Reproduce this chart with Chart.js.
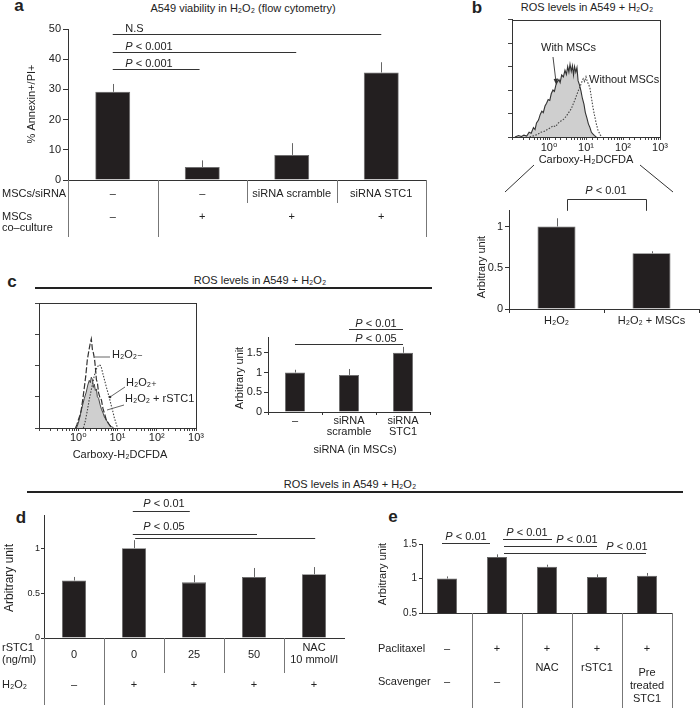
<!DOCTYPE html>
<html>
<head>
<meta charset="utf-8">
<title>STC1 and ROS in A549 cells</title>
<script src="https://cdn.jsdelivr.net/npm/chart.js@4.4.1/dist/chart.umd.min.js"></script>
<style>
  html, body { margin: 0; padding: 0; background: #fff; }
  #fig { position: relative; width: 700px; height: 708px; overflow: hidden;
         font-family: "Liberation Sans", Arial, "DejaVu Sans", sans-serif; color: #222; }
  #fig canvas { position: absolute; }
  .t { position: absolute; white-space: nowrap; font-size: 11px; line-height: 1; transform: translate(-50%, -50%); }
  .lt { position: absolute; font-size: 17px; font-weight: bold; line-height: 1; transform: translate(-50%, -50%); }
  .rule { position: absolute; height: 1.5px; background: #222; }
</style>
</head>
<body>
<div id="fig">
  <div class="lt" style="left:19px;top:5px">a</div>
  <div class="t" style="left:243px;top:8px">A549 viability in H₂O₂ (flow cytometry)</div>
  <div class="lt" style="left:477px;top:7px">b</div>
  <div class="t" style="left:587px;top:7px">ROS levels in A549 + H₂O₂</div>
  <div class="lt" style="left:12px;top:281px">c</div>
  <div class="t" style="left:260px;top:280px">ROS levels in A549 + H₂O₂</div>
  <div class="rule" style="left:35px;top:287px;width:397px"></div>
  <div class="t" style="left:350px;top:484px">ROS levels in A549 + H₂O₂</div>
  <div class="rule" style="left:27px;top:491px;width:656px"></div>
  <div class="lt" style="left:21px;top:517px">d</div>
  <div class="lt" style="left:393px;top:516px">e</div>

  <canvas id="chartA" width="430" height="220" style="left:0;top:20px"></canvas>
  <canvas id="histB" width="230" height="160" style="left:470px;top:10px"></canvas>
  <canvas id="chartB" width="240" height="180" style="left:460px;top:160px"></canvas>
  <canvas id="histC" width="230" height="175" style="left:0;top:290px"></canvas>
  <canvas id="chartC" width="210" height="155" style="left:230px;top:310px"></canvas>
  <canvas id="chartD" width="350" height="213" style="left:0;top:495px"></canvas>
  <canvas id="chartE" width="350" height="188" style="left:350px;top:520px"></canvas>
</div>

<script>
// ---- panel a: A549 viability ----
const aGroups = ['–', '–', 'siRNA scramble', 'siRNA STC1'];
const aCoculture = ['–', '+', '+', '+'];
const aValues = [29.2, 4.3, 8.3, 35.6];
const aErrTop = [31.8, 6.5, 12.2, 39.0];
const aTicks = [0, 10, 20, 30, 40, 50];

// ---- panel b: histogram + bars ----
const bWithX = [0.12, 0.15, 0.18, 0.21, 0.25, 0.29, 0.33, 0.38, 0.42, 0.46, 0.52, 0.58, 0.64, 0.7, 0.78,
  0.86, 0.95, 1.05, 1.15, 1.28, 1.4, 1.55, 1.7, 1.86, 2.0, 2.2, 2.45, 2.7, 2.95, 3.2, 3.45, 3.7, 4.0,
  4.3, 4.6, 4.9, 5.3, 5.7, 6.1, 6.6, 7.3, 8.0, 8.8, 9.6, 10.6, 11.6, 12.8, 14.0, 15.5, 17, 19];
const bWithY = [0, 3, 1, 4, 2, 10, 8, 20, 16, 30, 36, 48, 55, 52, 66,
  72, 80, 78, 92, 100, 97, 112, 118, 122, 116, 132, 128, 142, 133, 150, 138, 155, 140,
  152, 132, 150, 138, 148, 120, 112, 98, 82, 70, 52, 40, 28, 20, 10, 6, 3, 0];
const bWithoutX = [0.3, 0.4, 0.5, 0.6, 0.75, 0.9, 1.1, 1.3, 1.5, 1.8, 2.1, 2.5, 2.9, 3.4, 4.0, 4.6,
  5.3, 6.0, 6.8, 7.6, 8.4, 9.2, 10.0, 10.8, 11.8, 12.8, 14.0, 15.5, 17, 19, 21, 24, 27];
const bWithoutY = [0, 3, 6, 10, 12, 16, 20, 24, 22, 30, 34, 38, 44, 52, 60, 72,
  84, 96, 106, 116, 124, 118, 128, 118, 112, 104, 84, 62, 46, 28, 15, 5, 0];
const bGroups = ['H₂O₂', 'H₂O₂ + MSCs'];
const bValues = [1.0, 0.675];
const bErrTop = [1.1, 0.70];
const bTicks = [0, 0.5, 1];

// ---- panel c: histogram + bars ----
const cNegX = [0.85, 0.92, 1.0, 1.1, 1.19, 1.3, 1.43, 1.55, 1.7, 1.85, 2.03, 2.15, 2.3, 2.43, 2.6,
  2.73, 2.9, 3.07, 3.3, 3.6, 3.89, 4.3, 4.64, 5.2, 6.24, 7.0];
const cNegY = [0, 4, 10, 16, 23, 36, 52, 66, 87, 98, 109, 114, 100, 96, 88,
  78, 62, 58, 45, 38, 36, 24, 19, 10, 4, 0];
const cPosX = [1.35, 1.5, 1.7, 1.9, 2.15, 2.4, 2.6, 2.85, 3.07, 3.4, 3.66, 3.9, 4.12, 4.64, 5.22,
  5.8, 6.24, 7.0, 7.7, 8.4, 9.2, 10.0];
const cPosY = [0, 8, 22, 36, 49, 60, 68, 75, 78, 81, 80, 77, 72, 62, 52,
  44, 38, 28, 20, 12, 6, 0];
const cStcX = [0.9, 1.0, 1.1, 1.19, 1.3, 1.43, 1.6, 1.75, 1.91, 2.03, 2.15, 2.3, 2.43, 2.57, 2.73,
  2.9, 3.07, 3.3, 3.6, 3.9, 4.3, 4.64, 5.22, 6.0, 7.0, 8.0];
const cStcY = [0, 6, 14, 22, 30, 38, 46, 55, 61, 58, 65, 62, 52, 56, 48,
  50, 40, 38, 30, 24, 19, 14, 10, 5, 2, 0];
const cGroups = ['–', ['siRNA', 'scramble'], ['siRNA', 'STC1']];
const cValues = [1.0, 0.94, 1.5];
const cErrTop = [1.07, 1.09, 1.65];
const cTicks = [0, 0.5, 1, 1.5];

const histTickValues = [1, 10, 100, 1000];
const histTickLabels = ['10⁰', '10¹', '10²', '10³'];

// ---- panel d: rSTC1 dose ----
const dDose = ['0', '0', '25', '50', ['NAC', '10 mmol/l']];
const dPeroxide = ['–', '+', '+', '+', '+'];
const dValues = [0.64, 1.0, 0.62, 0.68, 0.71];
const dErrTop = [0.68, 1.09, 0.70, 0.78, 0.79];
const dTicks = [0, 0.5, 1];

// ---- panel e: paclitaxel ----
const ePaclitaxel = ['–', '+', '+', '+', '+'];
const eScavenger = ['–', '–', 'NAC', 'rSTC1', ['Pre', 'treated', 'STC1']];
const eValues = [1.0, 1.31, 1.17, 1.02, 1.04];
const eErrTop = [1.03, 1.35, 1.2, 1.06, 1.08];
const eTicks = [0.5, 1, 1.5];

// significance marks: from/to in category index, at in axis units
const aSig = [
  {from: 0, to: 3, at: 48.3, label: 'N.S', lx: 0.14},
  {from: 0, to: 2.05, at: 42.4, label: 'P < 0.001', lx: 0.14},
  {from: 0, to: 0.97, at: 36.8, label: 'P < 0.001', lx: 0.14}
];
const cSig = [
  {from: 1, to: 2, at: 2.11, label: 'P < 0.01', lx: 1.5},
  {from: 0, to: 2, at: 1.73, label: 'P < 0.05', lx: 1.5}
];
const dSig = [
  {from: 0.98, to: 1.93, at: 1.41, label: 'P < 0.01', lx: 1.5},
  {from: 0.98, to: 3.05, at: 1.156, label: 'P < 0.05', lx: 1.5},
  {from: 1.02, to: 4.02, at: 1.11}
];
const eSig = [
  {from: -0.1, to: 0.86, at: 1.515, label: 'P < 0.01', lx: 0.38},
  {from: 1.12, to: 2.1, at: 1.572, label: 'P < 0.01', lx: 1.6},
  {from: 1.14, to: 3.0, at: 1.471, label: 'P < 0.01', lx: 2.6},
  {from: 1.14, to: 3.98, at: 1.37, label: 'P < 0.01', lx: 3.6}
];

const FONT = '"Liberation Sans", Arial, "DejaVu Sans", sans-serif';
Chart.defaults.font.family = FONT;
Chart.defaults.font.size = 11;
Chart.defaults.color = '#222';

const INK = '#333';
const BAR = '#231f20';

function font(size, style) {
  return (style ? style + ' ' : '') + size + 'px ' + FONT;
}

function text(ctx, s, x, y, opt = {}) {
  ctx.font = font(opt.size || 11, opt.style);
  ctx.fillStyle = opt.color || '#222';
  ctx.textAlign = opt.align || 'center';
  ctx.textBaseline = 'middle';
  ctx.fillText(s, x, y);
}

function vtext(ctx, s, x, y, size) {
  ctx.save();
  ctx.translate(x, y);
  ctx.rotate(-Math.PI / 2);
  text(ctx, s, 0, 0, {size});
  ctx.restore();
}

// label with an italic P, e.g. "P < 0.01"
function sigText(ctx, s, x, y, align) {
  if (!s.startsWith('P ')) {
    text(ctx, s, x, y, {align});
    return;
  }
  const rest = s.slice(1);
  ctx.font = font(11, 'italic');
  const wp = ctx.measureText('P').width;
  ctx.font = font(11);
  const wr = ctx.measureText(rest).width;
  const x0 = align === 'left' ? x : x - (wp + wr) / 2;
  text(ctx, 'P', x0, y, {style: 'italic', align: 'left'});
  text(ctx, rest, x0 + wp, y, {align: 'left'});
}

function seg(ctx, x1, y1, x2, y2, color, w) {
  ctx.beginPath();
  ctx.moveTo(x1, y1);
  ctx.lineTo(x2, y2);
  ctx.strokeStyle = color || INK;
  ctx.lineWidth = w || 1;
  ctx.stroke();
}

const crisp = v => Math.round(v) + 0.5;

function errorBars(chart, tops) {
  const ys = chart.scales.y;
  chart.getDatasetMeta(0).data.forEach((bar, i) => {
    const x = crisp(bar.x);
    seg(chart.ctx, x, bar.y, x, ys.getPixelForValue(tops[i]), '#666', 1);
  });
}

function sigLines(chart, list, gap, align) {
  const {ctx} = chart;
  const xs = chart.scales.x, ys = chart.scales.y;
  list.forEach(s => {
    const y = crisp(ys.getPixelForValue(s.at));
    seg(ctx, xs.getPixelForValue(s.from), y, xs.getPixelForValue(s.to), y, INK, 1);
    if (s.label) sigText(ctx, s.label, xs.getPixelForValue(s.lx), y - gap, align);
  });
}

// category boundaries (between neighbouring bars)
function bounds(xs, n) {
  const out = [];
  for (let i = 1; i < n; i++) out.push((xs.getPixelForValue(i - 1) + xs.getPixelForValue(i)) / 2);
  return out;
}

function cell(ctx, v, x, y, lh) {
  (Array.isArray(v) ? v : [v]).forEach((s, k) => text(ctx, s, x, y + k * lh));
}

function extras(id, draw) {
  return {
    id,
    afterDraw(chart) {
      chart.ctx.save();
      draw(chart, chart.ctx, chart.chartArea, chart.scales.x);
      chart.ctx.restore();
    }
  };
}

function makeBars(id, o, draw) {
  return new Chart(document.getElementById(id), {
    type: 'bar',
    data: {
      labels: o.labels,
      datasets: [{
        data: o.values,
        backgroundColor: BAR,
        borderColor: '#666',
        borderWidth: 0.8,
        barPercentage: o.barPct,
        categoryPercentage: 1
      }]
    },
    options: {
      responsive: false,
      animation: false,
      devicePixelRatio: 1,
      events: [],
      layout: {padding: o.padding},
      plugins: {legend: {display: false}, tooltip: {enabled: false}},
      scales: {
        x: {
          offset: true,
          grid: {display: true, offset: true, drawOnChartArea: false,
                 drawTicks: !!o.xLabels, tickLength: o.xTick || 3, color: INK},
          border: {display: true, color: INK, width: 1},
          ticks: {display: !!o.xLabels, padding: o.xPad || 0, maxRotation: 0, autoSkip: false,
                  color: '#222', font: {size: 11, lineHeight: 1.05}},
          afterFit: s => { s.height = o.xHeight; }
        },
        y: {
          min: o.min,
          max: o.max,
          afterBuildTicks: s => { s.ticks = o.ticks.map(v => ({value: v})); },
          grid: {display: true, drawOnChartArea: false, drawTicks: true, tickLength: o.yTick, color: INK},
          border: {display: true, color: INK, width: 1},
          ticks: {padding: o.yPad, color: '#222', font: {size: o.tickSize}, callback: v => String(v)},
          afterFit: s => { s.width = o.yWidth; }
        }
      }
    },
    plugins: [extras(id + '-extras', draw)]
  });
}

function logLabel(v) {
  const i = histTickValues.findIndex(t => Math.abs(t - v) < 1e-9 * t);
  return i < 0 ? '' : histTickLabels[i];
}

function makeHist(id, sets, o, draw) {
  return new Chart(document.getElementById(id), {
    type: 'line',
    data: {datasets: sets},
    options: {
      responsive: false,
      animation: false,
      devicePixelRatio: 1,
      events: [],
      layout: {padding: o.padding},
      plugins: {legend: {display: false}, tooltip: {enabled: false}},
      elements: {point: {radius: 0}, line: {tension: 0}},
      scales: {
        x: {
          type: 'logarithmic',
          min: 0.1,
          max: 1000,
          grid: {drawOnChartArea: false, tickLength: 3, color: '#444'},
          border: {color: INK},
          ticks: {autoSkip: false, maxRotation: 0, padding: o.xPad, color: '#222',
                  font: {size: 11}, callback: v => logLabel(v)},
          afterFit: s => { s.height = o.xHeight; }
        },
        y: {
          min: 0,
          max: o.yMax,
          grid: {drawOnChartArea: false, tickLength: 4, color: '#444'},
          border: {color: INK},
          ticks: {stepSize: o.yStep, callback: () => ''},
          afterFit: s => { s.width = o.yWidth; }
        }
      }
    },
    plugins: [extras(id + '-extras', (chart, ctx, ca, xs) => {
      ctx.strokeStyle = INK;
      ctx.lineWidth = 1;
      ctx.strokeRect(crisp(ca.left), crisp(ca.top), Math.round(ca.right - ca.left), Math.round(ca.bottom - ca.top));
      draw(chart, ctx, ca, xs);
    })]
  });
}

const pts = (xs, ys) => xs.map((x, i) => ({x, y: ys[i]}));

// ---------- a ----------
makeBars('chartA', {
  labels: aGroups, values: aValues, min: 0, max: 50, ticks: aTicks, tickSize: 11,
  barPct: 0.39, padding: {top: 9, right: 4, left: 0, bottom: 0},
  yWidth: 68, xHeight: 60, yTick: 5, yPad: 2
}, (chart, ctx, ca, xs) => {
  errorBars(chart, aErrTop);
  sigLines(chart, aSig, 6, 'left');
  vtext(ctx, '% Annexin+/PI+', 32, 84, 11);
  const b = ca.bottom;
  const e = bounds(xs, aGroups.length);
  [[ca.left, 57], [e[0], 57], [e[1], 23], [e[2], 23], [ca.right, 57]].forEach(([x, len]) =>
    seg(ctx, crisp(x), b, crisp(x), b + len, '#777', 1));
  aGroups.forEach((g, i) => text(ctx, g, xs.getPixelForValue(i), b + 14));
  aCoculture.forEach((g, i) => text(ctx, g, xs.getPixelForValue(i), b + 37));
  text(ctx, 'MSCs/siRNA', 2, b + 14, {align: 'left'});
  text(ctx, 'MSCs', 2, b + 37, {align: 'left'});
  text(ctx, 'co–culture', 2, b + 48, {align: 'left'});
});

// ---------- b histogram ----------
makeHist('histB', [
  {data: pts(bWithoutX, bWithoutY), borderColor: '#444', borderWidth: 1.1, borderDash: [1.5, 1.5], fill: false},
  {data: pts(bWithX, bWithY), borderColor: '#333', borderWidth: 1.1, backgroundColor: '#cfcfcf', fill: 'origin'}
], {padding: {top: 9, right: 40, left: 0, bottom: 0}, yWidth: 42, xHeight: 33, xPad: 1, yMax: 250, yStep: 50},
(chart, ctx) => {
  text(ctx, 'With MSCs', 71, 38, {align: 'left'});
  seg(ctx, 83, 47, 86, 72, INK, 0.9);
  ctx.beginPath();
  ctx.moveTo(86.3, 75);
  ctx.lineTo(83.6, 69);
  ctx.lineTo(88.2, 68.6);
  ctx.closePath();
  ctx.fillStyle = INK;
  ctx.fill();
  text(ctx, 'Without MSCs', 119, 70, {align: 'left'});
  text(ctx, 'Carboxy-H₂DCFDA', 116, 150);
});

// ---------- b bars ----------
makeBars('chartB', {
  labels: bGroups, values: bValues, min: 0, max: 1.2, ticks: bTicks, tickSize: 11,
  barPct: 0.4, padding: {top: 50, right: 1, left: 0, bottom: 0},
  yWidth: 49, xHeight: 31, yTick: 4, yPad: 2, xLabels: true, xTick: 4, xPad: 2
}, (chart, ctx, ca, xs) => {
  const ys = chart.scales.y;
  errorBars(chart, bErrTop);
  const x1 = xs.getPixelForValue(0.11), x2 = xs.getPixelForValue(0.94);
  const yb = crisp(ys.getPixelForValue(1.337)), yl = ys.getPixelForValue(1.19);
  ctx.beginPath();
  ctx.moveTo(crisp(x1), yl);
  ctx.lineTo(crisp(x1), yb);
  ctx.lineTo(crisp(x2), yb);
  ctx.lineTo(crisp(x2), yl);
  ctx.strokeStyle = INK;
  ctx.lineWidth = 1;
  ctx.stroke();
  sigText(ctx, 'P < 0.01', xs.getPixelForValue(0.52), yb - 9);
  vtext(ctx, 'Arbitrary unit', 22, 107, 11);
  seg(ctx, 45, 32, 74, 5, INK, 1);
  seg(ctx, 180, 5, 213, 32, INK, 1);
});

// ---------- c histogram ----------
makeHist('histC', [
  {data: pts(cNegX, cNegY), borderColor: '#333', borderWidth: 1.2, borderDash: [6, 2], fill: false},
  {data: pts(cPosX, cPosY), borderColor: '#444', borderWidth: 1.1, borderDash: [1.5, 1.5], fill: false},
  {data: pts(cStcX, cStcY), borderColor: '#444', borderWidth: 1, backgroundColor: '#cfcfcf', fill: 'origin'}
], {padding: {top: 13, right: 34, left: 0, bottom: 0}, yWidth: 39, xHeight: 37, xPad: 0, yMax: 160, yStep: 20},
(chart, ctx) => {
  seg(ctx, 95, 67, 110, 67, '#555', 0.9);
  text(ctx, 'H₂O₂₋', 112, 65, {align: 'left'});
  seg(ctx, 110, 107, 125, 97, '#555', 0.9);
  ctx.beginPath();
  ctx.arc(110, 107, 1.3, 0, Math.PI * 2);
  ctx.fillStyle = '#333';
  ctx.fill();
  text(ctx, 'H₂O₂₊', 126, 93, {align: 'left'});
  seg(ctx, 107, 120, 124, 115, '#555', 0.9);
  text(ctx, 'H₂O₂ + rSTC1', 125, 109, {align: 'left'});
  text(ctx, 'Carboxy-H₂DCFDA', 120, 165);
});

// ---------- c bars ----------
makeBars('chartC', {
  labels: cGroups, values: cValues, min: 0, max: 1.9, ticks: cTicks, tickSize: 11,
  barPct: 0.37, padding: {top: 27, right: 10, left: 0, bottom: 0},
  yWidth: 38, xHeight: 53, yTick: 4, yPad: 2, xLabels: true, xTick: 3, xPad: 0
}, (chart, ctx) => {
  errorBars(chart, cErrTop);
  sigLines(chart, cSig, 6, 'center');
  vtext(ctx, 'Arbitrary unit', 10, 68, 11);
  text(ctx, 'siRNA (in MSCs)', 125, 140);
});

// ---------- d ----------
makeBars('chartD', {
  labels: dPeroxide, values: dValues, min: 0, max: 1.37, ticks: dTicks, tickSize: 9,
  barPct: 0.4, padding: {top: 20, right: 6, left: 0, bottom: 0},
  yWidth: 44, xHeight: 70, yTick: 3, yPad: 1
}, (chart, ctx, ca, xs) => {
  errorBars(chart, dErrTop);
  sigLines(chart, dSig, 8, 'center');
  vtext(ctx, 'Arbitrary unit', 10, 83, 12);
  const b = ca.bottom;
  const e = bounds(xs, dDose.length);
  [[ca.left, 67], [e[0], 67], [e[1], 35], [e[2], 35], [e[3], 35]].forEach(([x, len]) =>
    seg(ctx, crisp(x), b, crisp(x), b + len, '#777', 1));
  dDose.forEach((v, i) => cell(ctx, v, xs.getPixelForValue(i), Array.isArray(v) ? b + 10 : b + 17, 12));
  dPeroxide.forEach((v, i) => text(ctx, v, xs.getPixelForValue(i), b + 47));
  text(ctx, 'rSTC1', 2, b + 10, {align: 'left'});
  text(ctx, '(ng/ml)', 2, b + 22, {align: 'left'});
  text(ctx, 'H₂O₂', 2, b + 47, {align: 'left'});
});

// ---------- e ----------
makeBars('chartE', {
  labels: ePaclitaxel, values: eValues, min: 0.5, max: 1.5, ticks: eTicks, tickSize: 10,
  barPct: 0.4, padding: {top: 24, right: 28, left: 0, bottom: 0},
  yWidth: 72, xHeight: 95, yTick: 3, yPad: 2
}, (chart, ctx, ca, xs) => {
  errorBars(chart, eErrTop);
  sigLines(chart, eSig, 7, 'center');
  vtext(ctx, 'Arbitrary unit', 33, 54, 11);
  const b = ca.bottom;
  bounds(xs, ePaclitaxel.length).concat([ca.right]).forEach(x =>
    seg(ctx, crisp(x), b, crisp(x), chart.height, '#777', 1));
  ePaclitaxel.forEach((v, i) => text(ctx, v, xs.getPixelForValue(i), b + 36));
  eScavenger.forEach((v, i) => {
    const y = Array.isArray(v) ? b + 60 : (v === '–' ? b + 69 : b + 55);
    cell(ctx, v, xs.getPixelForValue(i), y, 13);
  });
  text(ctx, 'Paclitaxel', 28, b + 36, {align: 'left'});
  text(ctx, 'Scavenger', 28, b + 69, {align: 'left'});
});
</script>
</body>
</html>
